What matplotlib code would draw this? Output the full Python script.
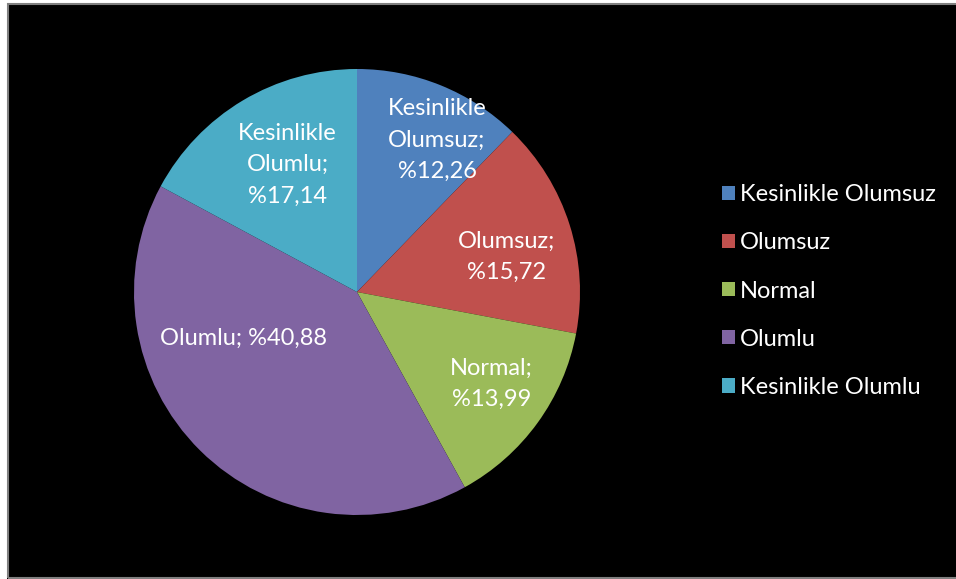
import numpy as np
import matplotlib
matplotlib.use('Agg')
import matplotlib.pyplot as plt
from matplotlib.patches import Rectangle

plt.rcParams['font.family'] = ['Lato', 'DejaVu Sans']

categories = ['Kesinlikle Olumsuz', 'Olumsuz', 'Normal', 'Olumlu', 'Kesinlikle Olumlu']
shares = [12.26, 15.72, 13.99, 40.88, 17.14]
slice_labels = ['Kesinlikle\nOlumsuz;\n%12,26', 'Olumsuz;\n%15,72', 'Normal;\n%13,99',
                'Olumlu; %40,88', 'Kesinlikle\nOlumlu;\n%17,14']
colors = ['#4F81BD', '#C0504D', '#9BBB59', '#8064A2', '#4BACC6']

# label placement inside slices (radius fraction, angle shift in degrees)
label_r = [0.77, 0.69, 0.73, 0.55, 0.65]
label_shift = [-5.7, -4.5, 1.7, -23.0, -2.2]

W, H = 956, 579
fig = plt.figure(figsize=(W / 100, H / 100), dpi=100, facecolor='black')

# white margin and grey frame like the original sheet
fig.add_artist(Rectangle((0, 0), 7 / W, 1, transform=fig.transFigure, facecolor='white', edgecolor='none'))
fig.add_artist(Rectangle((0, 1 - 3 / H), 1, 3 / H, transform=fig.transFigure, facecolor='white', edgecolor='none'))
fig.add_artist(Rectangle((7.5 / W, 1.5 / H), 1.2, 1 - 5 / H, transform=fig.transFigure,
                         facecolor='none', edgecolor='#808080', linewidth=1.5))

cx, cy, R = 357, H - 292, 223
ax = fig.add_axes([(cx - R) / W, (cy - R) / H, 2 * R / W, 2 * R / H])
ax.set_facecolor('none')

wedges, _ = ax.pie(shares, colors=colors, startangle=90, counterclock=False,
                   wedgeprops=dict(linewidth=0))
ax.set_xlim(-1, 1)
ax.set_ylim(-1, 1)
ax.set_aspect('equal')
ax.axis('off')

for w, lab, r, sh in zip(wedges, slice_labels, label_r, label_shift):
    ang = np.deg2rad((w.theta1 + w.theta2) / 2 + sh)
    ax.text(r * np.cos(ang), r * np.sin(ang), lab, ha='center', va='center',
            color='white', fontsize=17, linespacing=1.6)

fig.legend(wedges, categories, loc='center left', bbox_to_anchor=(710 / W, 1 - 291 / H),
           frameon=False, fontsize=17, labelcolor='white', handlelength=0.55,
           handleheight=0.55, handletextpad=0.2, labelspacing=1.15, borderpad=0)

fig.savefig('out.png', dpi=100, facecolor=fig.get_facecolor())
